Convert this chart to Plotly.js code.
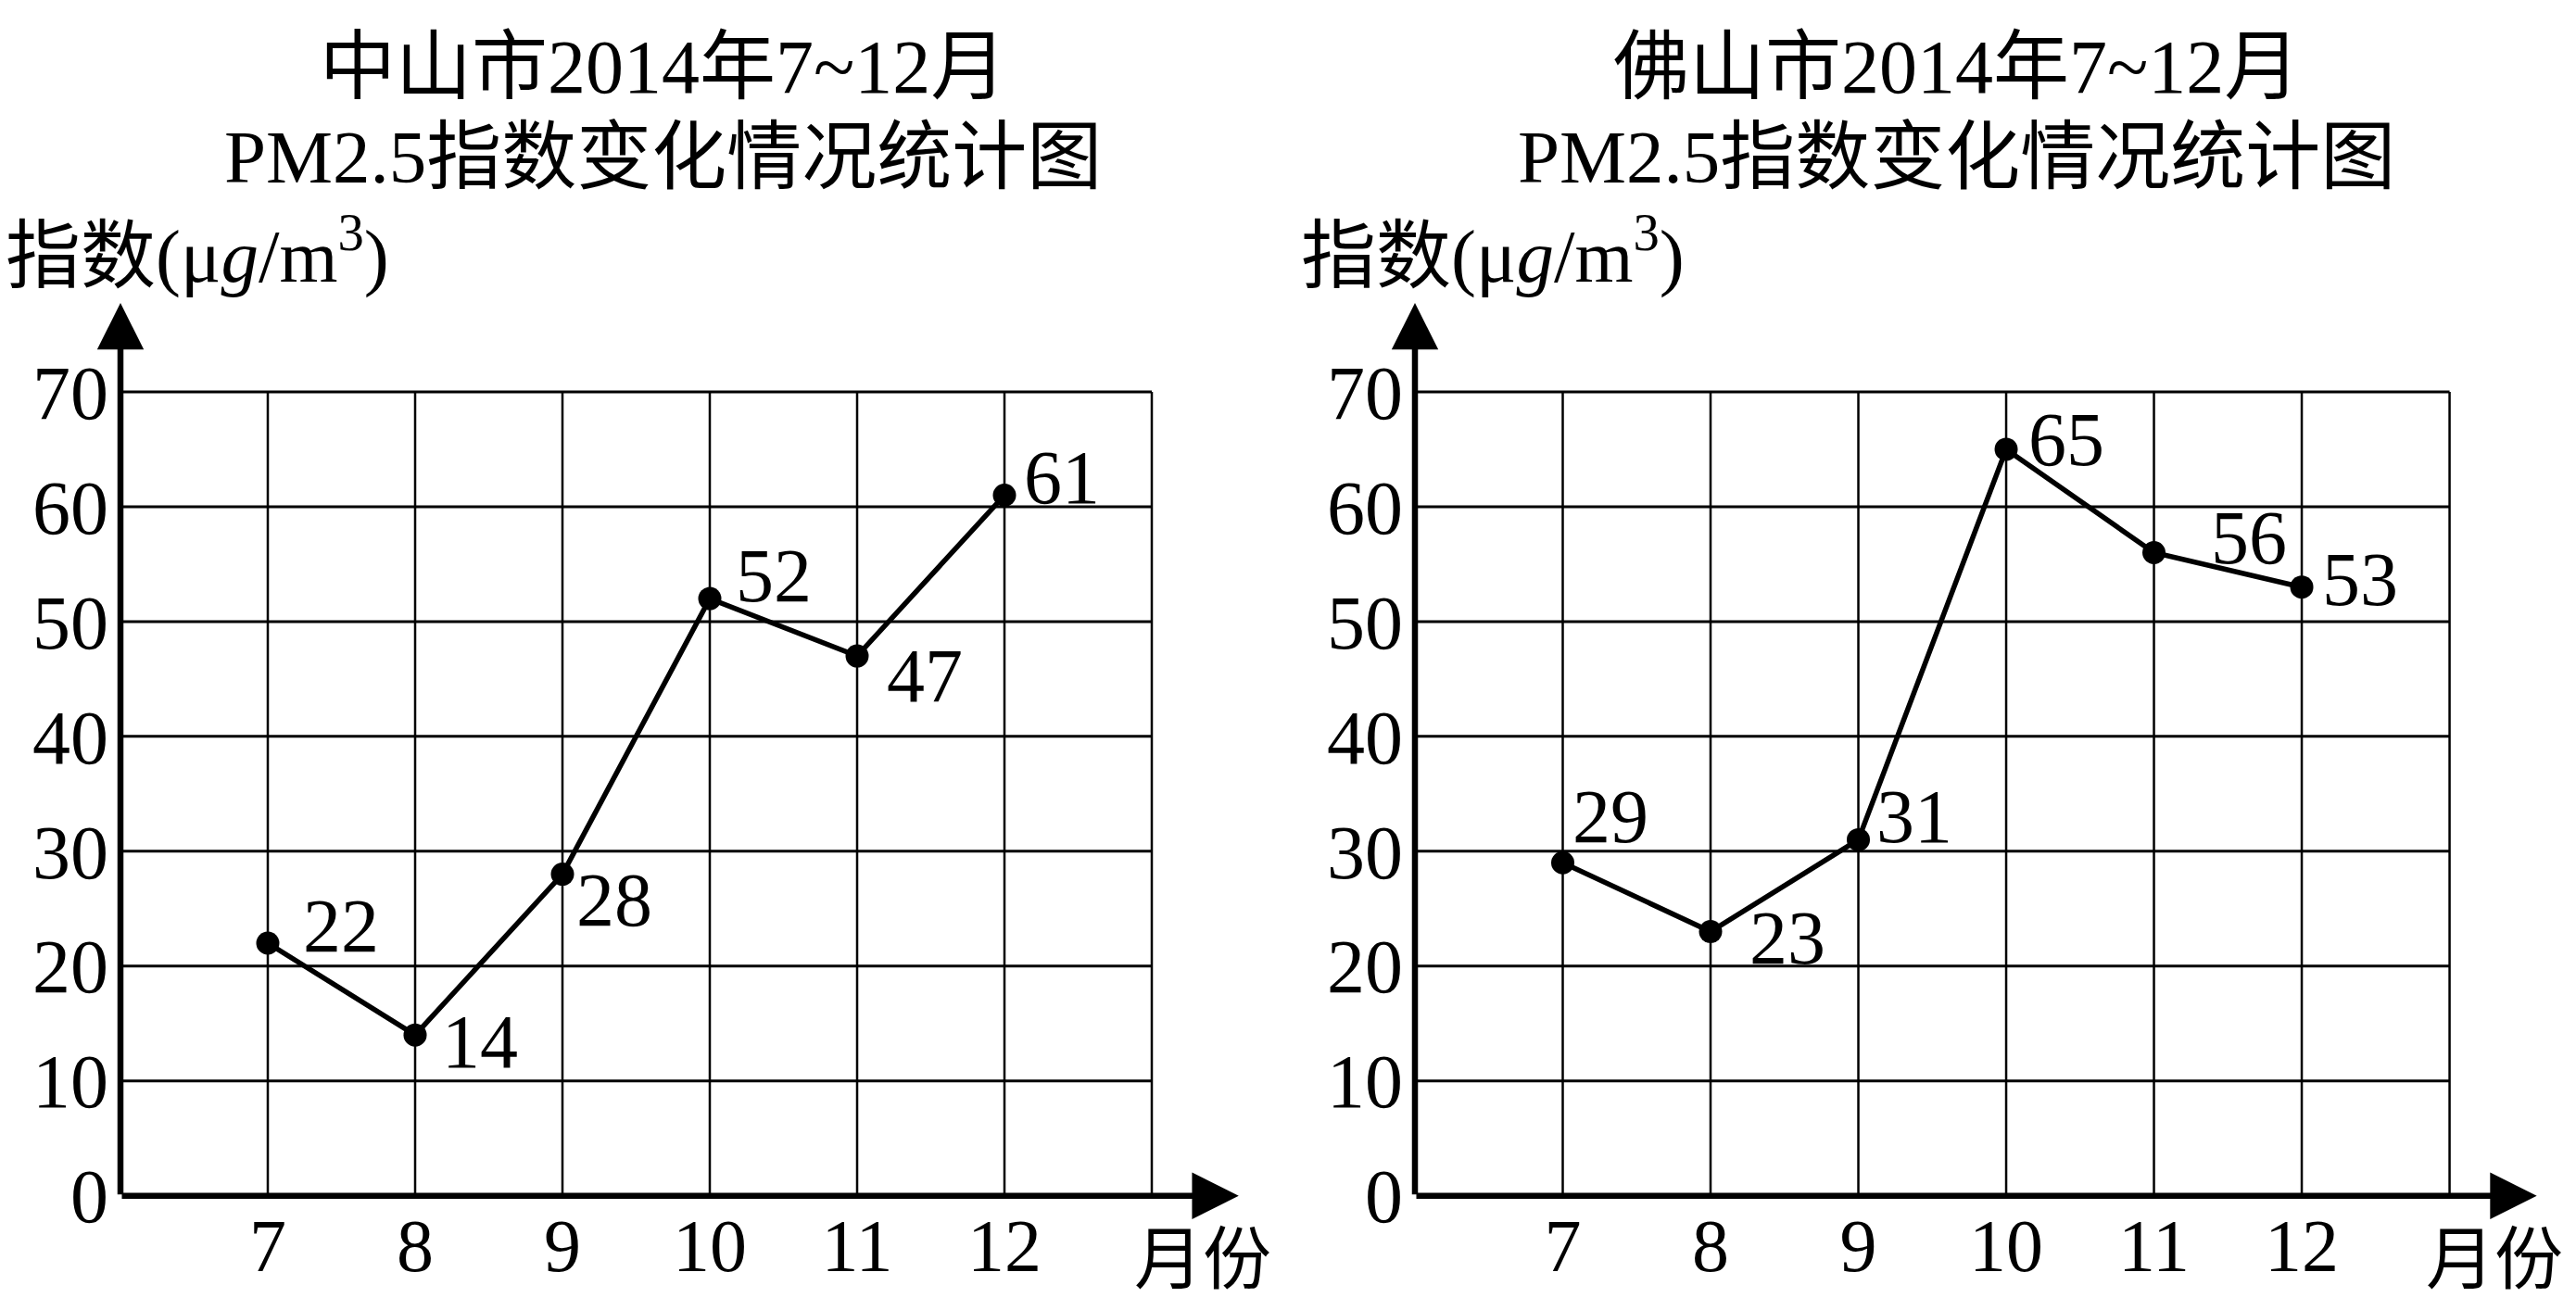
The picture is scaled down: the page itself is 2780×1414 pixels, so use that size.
<!DOCTYPE html>
<html>
<head>
<meta charset="utf-8">
<script src="https://cdn.plot.ly/plotly-3.0.1.min.js"></script>
<style>
  html, body { margin: 0; padding: 0; background: #ffffff; }
  #chart { width: 2780px; height: 1414px; }
</style>
</head>
<body>
<div id="chart"></div>
<script>
// ---- data ----
var months = [7, 8, 9, 10, 11, 12];
var monthLabels = ['7', '8', '9', '10', '11', '12'];
var zhongshan = [22, 14, 28, 52, 47, 61];
var foshan = [29, 23, 31, 65, 56, 53];
var yTicks = [0, 10, 20, 30, 40, 50, 60, 70];
var gridMonths = [7, 8, 9, 10, 11, 12, 13];
var cityTitles = ['中山市2014年7~12月', '佛山市2014年7~12月'];
var subTitle = 'PM2.5指数变化情况统计图';
var yTitleText = '指数(μ<i>g</i>/m<sup>3</sup>)';
var xTitleText = '月份';

// ---- label offsets (style) ----
var zsShiftX = [79, 70, 56, 69, 73, 62];
var zsShiftY = [18, -7, -28, 25, -21, 19];
var fsShiftX = [51, 83, 60, 65, 102, 63];
var fsShiftY = [50, -7, 25, 10, 16, 8];

var FONT = '"Liberation Serif", "Times New Roman", "Noto Sans CJK SC", serif';
var xMin = 6, xMax = 13, xArrow = 13.59, xRangeMax = 13.7;
var yMin = 0, yMax = 70, yArrow = 77.75, yRangeMax = 78;

function lineTrace(vals, xa, ya) {
  return {
    x: months, y: vals, xaxis: xa, yaxis: ya,
    type: 'scatter', mode: 'lines+markers',
    line: { color: '#000000', width: 5.5 },
    marker: { color: '#000000', size: 25 },
    cliponaxis: false, hoverinfo: 'skip'
  };
}

var traces = [lineTrace(zhongshan, 'x', 'y'), lineTrace(foshan, 'x2', 'y2')];

var shapes = [];
var annotations = [];

function addPanel(xr, yr, vals, sx, sy) {
  // vertical grid
  gridMonths.forEach(function (m) {
    shapes.push({ type: 'line', xref: xr, yref: yr, x0: m, x1: m, y0: yMin, y1: yMax,
      line: { color: '#000000', width: 2.5 }, layer: 'below' });
  });
  // horizontal grid
  yTicks.forEach(function (v) {
    if (v === 0) return;
    shapes.push({ type: 'line', xref: xr, yref: yr, x0: xMin, x1: xMax, y0: v, y1: v,
      line: { color: '#000000', width: 3 }, layer: 'below' });
  });
  // axis arrows
  annotations.push({ xref: xr, yref: yr, axref: xr, ayref: yr,
    x: xArrow, y: 0, ax: xMin, ay: 0, text: '', showarrow: true,
    arrowhead: 2, arrowsize: 1.55, arrowwidth: 6.5, arrowcolor: '#000000',
    standoff: 0, startstandoff: 0 });
  annotations.push({ xref: xr, yref: yr, axref: xr, ayref: yr,
    x: xMin, y: yArrow, ax: xMin, ay: 0, text: '', showarrow: true,
    arrowhead: 2, arrowsize: 1.55, arrowwidth: 6.5, arrowcolor: '#000000',
    standoff: 0, startstandoff: 0 });
  // value labels
  months.forEach(function (m, i) {
    annotations.push({ xref: xr, yref: yr, x: m, y: vals[i], text: String(vals[i]),
      showarrow: false, xshift: sx[i], yshift: sy[i],
      xanchor: 'center', yanchor: 'middle',
      font: { family: FONT, size: 82, color: '#000000' } });
  });
}

addPanel('x', 'y', zhongshan, zsShiftX, zsShiftY);
addPanel('x2', 'y2', foshan, fsShiftX, fsShiftY);

// titles
var titleCenters = [0.2572, 0.7594];
var yTitleLeft = [0.0015, 0.5043];
var xTitleLeft = [0.4395, 0.9410];
[0, 1].forEach(function (k) {
  annotations.push({ xref: 'paper', yref: 'paper', x: titleCenters[k], y: 0.9485,
    xanchor: 'center', yanchor: 'middle', showarrow: false, text: cityTitles[k],
    font: { family: FONT, size: 82, color: '#000000' } });
  annotations.push({ xref: 'paper', yref: 'paper', x: titleCenters[k], y: 0.8798,
    xanchor: 'center', yanchor: 'middle', showarrow: false, text: subTitle,
    font: { family: FONT, size: 81, color: '#000000' } });
  annotations.push({ xref: 'paper', yref: 'paper', x: yTitleLeft[k], y: 0.809,
    xanchor: 'left', yanchor: 'middle', showarrow: false, text: yTitleText,
    font: { family: FONT, size: 81, color: '#000000' } });
  annotations.push({ xref: 'paper', yref: 'paper', x: xTitleLeft[k], y: 0.0382,
    xanchor: 'left', yanchor: 'middle', showarrow: false, text: xTitleText,
    font: { family: FONT, size: 74, color: '#000000' } });
});

function xAxisDef(dom, anchor) {
  return { domain: dom, anchor: anchor, range: [xMin, xRangeMax],
    tickmode: 'array', tickvals: months, ticktext: monthLabels,
    showgrid: false, zeroline: false, showline: false, ticks: '',
    ticklabelstandoff: 0,
    tickfont: { family: FONT, size: 80, color: '#000000' }, fixedrange: true };
}
function yAxisDef(anchor) {
  return { domain: [0.0872, 0.7710], anchor: anchor, range: [yMin, yRangeMax],
    tickmode: 'array', tickvals: yTicks, ticktext: yTicks.map(String),
    showgrid: false, zeroline: false, showline: false, ticks: '',
    ticklabelstandoff: 12,
    tickfont: { family: FONT, size: 82, color: '#000000' }, fixedrange: true };
}

var layout = {
  width: 2780, height: 1414,
  margin: { l: 0, r: 0, t: 0, b: 0 },
  paper_bgcolor: '#ffffff', plot_bgcolor: '#ffffff',
  showlegend: false,
  xaxis: xAxisDef([0.046763, 0.48716], 'y'),
  yaxis: yAxisDef('x'),
  xaxis2: xAxisDef([0.549281, 0.99108], 'y2'),
  yaxis2: yAxisDef('x2'),
  shapes: shapes,
  annotations: annotations
};

Plotly.newPlot('chart', traces, layout, { staticPlot: true, displayModeBar: false });
</script>
</body>
</html>
